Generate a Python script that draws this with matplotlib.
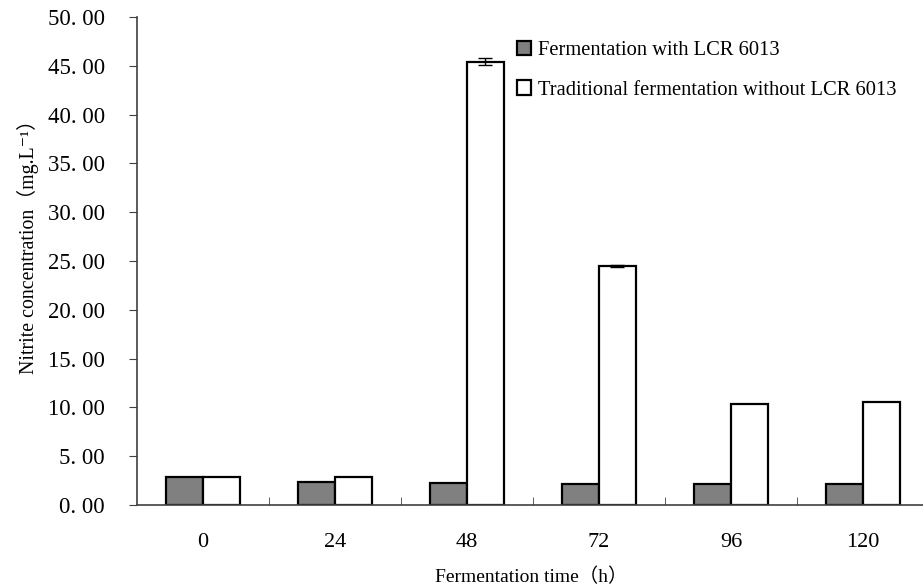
import matplotlib.pyplot as plt
from matplotlib.patches import Patch
import numpy as np

# data
times = ["0", "24", "48", "72", "96", "120"]
with_lcr = [2.85, 2.40, 2.25, 2.15, 2.20, 2.20]
without_lcr = [2.85, 2.85, 45.40, 24.50, 10.30, 10.55]
without_err = [0.0, 0.0, 0.35, 0.10, 0.0, 0.0]
yticks = [0, 5, 10, 15, 20, 25, 30, 35, 40, 45, 50]

plt.rcParams['font.family'] = ['Liberation Serif', 'DejaVu Serif', 'Noto Sans CJK SC']

W, H = 923, 588
fig = plt.figure(figsize=(W / 100, H / 100), dpi=100)
ax = fig.add_axes([137 / W, (H - 505) / H, (929 - 137) / W, (505 - 17) / H])

x = np.arange(len(times))
bw = 0.28
ax.bar(x - bw / 2, with_lcr, bw, color='#808080', edgecolor='black', linewidth=1.6)
ax.bar(x + bw / 2, without_lcr, bw, color='white', edgecolor='black', linewidth=1.6)
err = np.array(without_err)
sel = err > 0
ax.errorbar((x + bw / 2)[sel], np.array(without_lcr)[sel], yerr=err[sel], fmt='none',
            ecolor='black', elinewidth=1, capsize=5, capthick=1)

ax.set_xlim(-0.5, len(times) - 0.5)
ax.set_ylim(0, 50)
ax.set_yticks(yticks)
ax.set_yticklabels(["%d. 00" % v for v in yticks], fontsize=16.5)
ax.set_xticks(x)
ax.set_xticklabels(times, fontsize=16)
ax.tick_params(axis='x', length=0, pad=20)
ax.set_xticks(np.arange(0.5, len(times) - 0.5), minor=True)
ax.tick_params(axis='x', which='minor', direction='in', length=6, color='#404040')
ax.tick_params(axis='y', direction='out', length=6, color='#404040', pad=17)

for s in ['top', 'right']:
    ax.spines[s].set_visible(False)
for s in ['left', 'bottom']:
    ax.spines[s].set_color('#404040')
    ax.spines[s].set_linewidth(1.2)

fig.text(531 / W, 1 - 577 / H, "Fermentation time（h）", ha='center', va='center', fontsize=14)
fig.text(28 / W, 1 - 242 / H, "Nitrite concentration（mg.L⁻¹）", ha='center', va='center',
         rotation=90, fontsize=14.3)

handles = [Patch(facecolor='#808080', edgecolor='black', linewidth=1.6),
           Patch(facecolor='white', edgecolor='black', linewidth=1.6)]
labels = ["Fermentation with LCR 6013", "Traditional fermentation without LCR 6013"]
fig.legend(handles, labels, loc='upper left', bbox_to_anchor=(498 / W, 1 - 22 / H),
           frameon=False, fontsize=14.8, handlelength=0.7, handleheight=0.7,
           handletextpad=0.35, labelspacing=1.0)

fig.savefig("out.png", dpi=100)
